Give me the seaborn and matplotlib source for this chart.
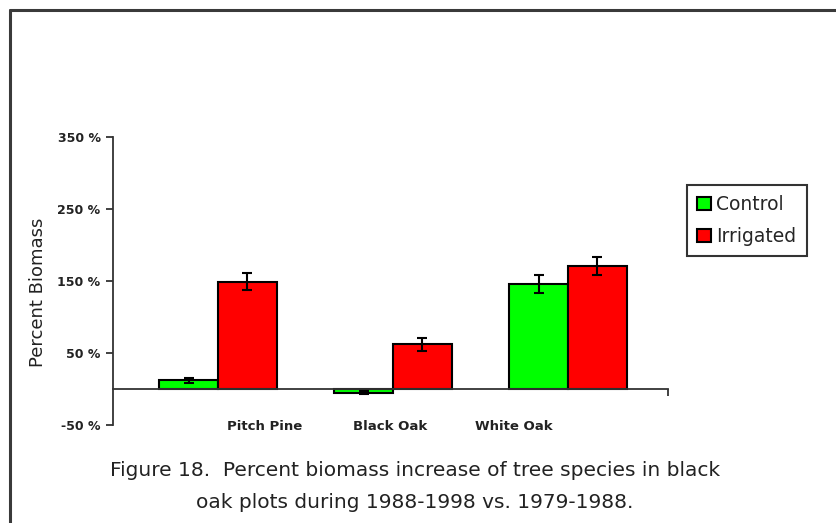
import matplotlib
matplotlib.use("Agg")
import matplotlib.pyplot as plt
import matplotlib.transforms as mtrans
from matplotlib.lines import Line2D
import seaborn as sns
import pandas as pd

# Percent biomass increase, 1988-1998 vs. 1979-1988
species = ["Pitch Pine", "Black Oak", "White Oak"]
treatments = ["Control", "Irrigated"]
control = [12, -5, 146]
irrigated = [149, 62, 171]
control_err = [3, 2, 12]
irrigated_err = [12, 9, 13]
yticks = [-50, 50, 150, 250, 350]

df = pd.DataFrame({
    "species": species * 2,
    "treatment": [treatments[0]] * 3 + [treatments[1]] * 3,
    "value": control + irrigated,
})

sns.set_style("white")
plt.rcParams["font.family"] = ["DejaVu Sans"]

W, H = 836, 523
fig = plt.figure(figsize=(W / 100, H / 100), dpi=100)
ax = fig.add_axes([113 / W, 1 - 425 / H, 555 / W, 288 / H])

colors = {"Control": "#00ff00", "Irrigated": "#ff0000"}
sns.barplot(data=df, x="species", y="value", hue="treatment",
            palette=colors, hue_order=treatments, order=species,
            width=0.67, edgecolor="black", linewidth=1.5, saturation=1,
            errorbar=None, dodge=True, ax=ax, legend=False)

# error bars on top of each bar
for cont, vals, errs in zip(ax.containers, [control, irrigated],
                            [control_err, irrigated_err]):
    xs = [p.get_x() + p.get_width() / 2 for p in cont.patches]
    ax.errorbar(xs, vals, yerr=errs, fmt="none", ecolor="black",
                elinewidth=1.5, capsize=3.5, capthick=1.5, zorder=5)

ax.set_xlim(-0.6, 2.571)
ax.set_ylim(-50, 350)

for s in ["top", "right"]:
    ax.spines[s].set_visible(False)
ax.spines["bottom"].set_position(("data", 0))
for s in ["left", "bottom"]:
    ax.spines[s].set_color("#333333")
    ax.spines[s].set_linewidth(1.3)

ax.set_yticks(yticks)
ax.set_yticklabels([f"{v} %" for v in yticks], fontsize=9,
                   fontweight="bold", color="#222222")
ax.tick_params(axis="y", direction="out", length=5, width=1.3,
               color="#333333", pad=4, left=True)

ax.set_xticks(range(len(species)))
ax.set_xticklabels(species, fontsize=9.5, fontweight="bold", color="#222222")
ax.tick_params(axis="x", which="major", length=0, pad=22)
ax.set_xticks([2.571], minor=True)
ax.tick_params(axis="x", which="minor", direction="out", length=5,
               width=1.3, color="#333333", bottom=True)

# shift the category labels the way the original layout has them
label_shift_px = [47, -3, -54]
for lbl, dx in zip(ax.get_xticklabels(), label_shift_px):
    lbl.set_transform(lbl.get_transform() +
                      mtrans.ScaledTranslation(dx / 100, 0, fig.dpi_scale_trans))

ax.set_xlabel("")
ax.set_ylabel("Percent Biomass", fontsize=13, color="#222222")
ax.yaxis.set_label_coords(-0.119, 0.462)

handles = [plt.Rectangle((0, 0), 1, 1, facecolor=colors[t],
                         edgecolor="black", linewidth=1.5) for t in treatments]
leg = ax.legend(handles, treatments, loc="upper left",
                bbox_to_anchor=(687 / W, 1 - 185 / H),
                bbox_transform=fig.transFigure, fontsize=13.5,
                frameon=True, fancybox=False, handlelength=0.72,
                handleheight=0.72, handletextpad=0.3, labelspacing=0.68,
                borderpad=0.55, borderaxespad=0)
leg.get_frame().set_edgecolor("black")
leg.get_frame().set_linewidth(1.5)

fig.text(415 / W, 1 - 471 / H,
         "Figure 18.  Percent biomass increase of tree species in black",
         ha="center", va="center", fontsize=14.5, color="#222222")
fig.text(415 / W, 1 - 503 / H,
         "oak plots during 1988-1998 vs. 1979-1988.",
         ha="center", va="center", fontsize=14.5, color="#222222")

# page frame along the top and left edges
fig.add_artist(Line2D([10 / W, 10 / W], [0, 1 - 10 / H],
                      transform=fig.transFigure, color="#3a3a3a", lw=2.2))
fig.add_artist(Line2D([10 / W, 1], [1 - 10 / H, 1 - 10 / H],
                      transform=fig.transFigure, color="#3a3a3a", lw=2.2))

fig.savefig("out.png", dpi=100)
